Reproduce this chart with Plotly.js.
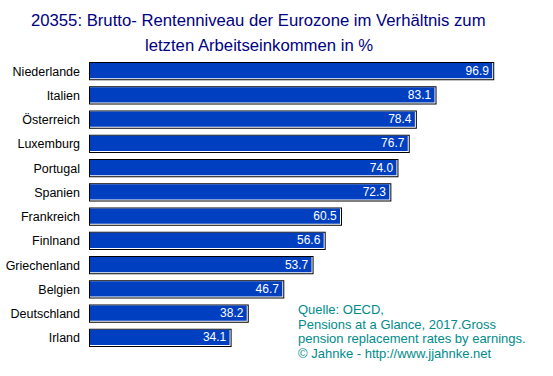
<!DOCTYPE html>
<html>
<head>
<meta charset="utf-8">
<script src="https://cdn.plot.ly/plotly-3.0.1.min.js"></script>
<style>html,body{margin:0;padding:0;background:#fff;}#chart{width:553px;height:376px;}</style>
</head>
<body>
<div id="chart"></div>
<script>
const countries = ["Niederlande","Italien","Österreich","Luxemburg","Portugal","Spanien","Frankreich","Finlnand","Griechenland","Belgien","Deutschland","Irland"];
const values = [96.9, 83.1, 78.4, 76.7, 74.0, 72.3, 60.5, 56.6, 53.7, 46.7, 38.2, 34.1];
const titleLines = ["20355: Brutto- Rentenniveau der Eurozone im Verhältnis zum", "letzten Arbeitseinkommen in %"];
const sourceLines = ["Quelle: OECD,", "Pensions at a Glance, 2017.Gross", "pension replacement rates by earnings.", "© Jahnke - http://www.jjahnke.net"];

// styling constants (pixel insets converted to data units)
const pxX = 1/4.18, pxY = 1/24.3;
const W = 0.76, OFF = -0.38;
const plotTop = 59, plotH = 291.4, plotL = 89, plotW = 460;
const FONT = 'Liberation Sans, Arial, sans-serif';

const black = {
  type: 'bar', orientation: 'h', y: countries, x: values, base: 0,
  width: W, offset: OFF, marker: {color: '#000000'}, hoverinfo: 'skip', showlegend: false
};
const white = {
  type: 'bar', orientation: 'h', y: countries, x: values.map(v => v - 2*pxX), base: pxX,
  width: W - 2*pxY, offset: OFF + pxY, marker: {color: '#ffffff'}, hoverinfo: 'skip', showlegend: false
};
const blue = {
  type: 'bar', orientation: 'h', y: countries, x: values.map(v => v - 3*pxX), base: pxX,
  width: W - 3*pxY, offset: OFF + pxY, marker: {color: '#0040C0'},
  text: values.map(v => v.toFixed(1)), textposition: 'inside', insidetextanchor: 'end',
  constraintext: 'none', textangle: 0,
  textfont: {family: FONT, size: 12, color: '#ffffff'},
  hoverinfo: 'skip', showlegend: false
};

function py(pix) { return (plotTop + plotH - pix) / plotH; }
function px(pix) { return (pix - plotL) / plotW; }

const annotations = [];
titleLines.forEach((t, i) => annotations.push({
  text: t, xref: 'paper', yref: 'paper', x: px(258.5), y: py(20 + i*25),
  xanchor: 'center', yanchor: 'middle', showarrow: false,
  font: {family: FONT, size: 16.7, color: '#000080'}
}));
sourceLines.forEach((t, i) => annotations.push({
  text: t, xref: 'paper', yref: 'paper', x: px(296), y: py(310 + i*14.6),
  xanchor: 'left', yanchor: 'middle', showarrow: false,
  font: {family: FONT, size: 13, color: '#008B8B'}
}));

const layout = {
  width: 553, height: 376,
  margin: {l: plotL, r: 553 - plotL - plotW, t: plotTop, b: 376 - plotTop - plotH},
  paper_bgcolor: '#ffffff', plot_bgcolor: '#ffffff',
  barmode: 'overlay',
  xaxis: {range: [0, 110], showgrid: false, zeroline: false, showticklabels: false, showline: false, ticks: ''},
  yaxis: {
    autorange: 'reversed', type: 'category', showgrid: false, zeroline: false, showline: false,
    ticks: '', ticklabelstandoff: 8,
    tickfont: {family: FONT, size: 12.5, color: '#000000'}
  },
  annotations: annotations
};

Plotly.newPlot('chart', [black, white, blue], layout, {displayModeBar: false, staticPlot: true});
</script>
</body>
</html>
